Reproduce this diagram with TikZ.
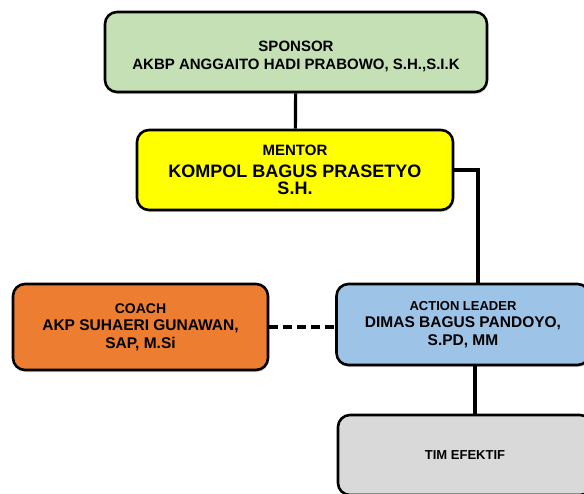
\documentclass[tikz,border=0pt]{standalone}
\usepackage{fontspec}
\setmainfont{Liberation Sans}
\usetikzlibrary{shadows}
\definecolor{sponsorgreen}{HTML}{C5E0B4}
\definecolor{mentoryellow}{HTML}{FFFF00}
\definecolor{coachorange}{HTML}{ED7D31}
\definecolor{leaderblue}{HTML}{9DC3E6}
\definecolor{teamgray}{HTML}{D9D9D9}
\newcommand{\fsz}[1]{\fontsize{#1}{1.2\dimexpr#1pt\relax}\selectfont}

\begin{document}
\begin{tikzpicture}[x=1pt,y=-1pt,
  box/.style={rectangle,draw,rounded corners=12pt,line width=2.6pt,align=center,
    font=\bfseries\fontsize{14}{17.5}\selectfont,
    drop shadow={opacity=0.3,shadow xshift=1pt,shadow yshift=-2pt}},
  link/.style={line width=3.2pt}]
  \useasboundingbox (0,0) rectangle (584,493);

  \node[box,fill=sponsorgreen,minimum width=382pt,minimum height=80pt] (sponsor) at (296,52)
    {\fsz{15}\rule{0pt}{19pt}SPONSOR\\\fsz{15}AKBP ANGGAITO HADI PRABOWO, S.H.,S.I.K};
  \node[box,fill=mentoryellow,minimum width=316pt,minimum height=80pt] (mentor) at (295,170)
    {\fsz{15}MENTOR\\[4pt]\fsz{18}KOMPOL BAGUS PRASETYO\\\fsz{18}S.H.};
  \node[box,fill=coachorange,minimum width=255pt,minimum height=86pt] (coach) at (140.5,327)
    {\fsz{14}COACH\\\fsz{15.5}AKP SUHAERI GUNAWAN,\\\fsz{15.5}SAP, M.Si};
  \node[box,fill=leaderblue,minimum width=253pt,minimum height=81pt] (leader) at (463,324.5)
    {\fsz{13}ACTION LEADER\\\fsz{15.5}DIMAS BAGUS PANDOYO,\\\fsz{15.5}S.PD, MM};
  \node[box,fill=teamgray,minimum width=254pt,minimum height=80pt] (team) at (465,455)
    {\fsz{13}TIM EFEKTIF};

  \draw[link] (sponsor) -- (mentor);
  \draw[link] (mentor.east) -| ([xshift=15pt]leader.north);
  \draw[link] ([xshift=12pt]leader.south) -- ([xshift=12pt]leader.south |- team.north);
  \draw[link,dash pattern=on 9pt off 5pt] (coach.east) -- (coach.east -| leader.west);
\end{tikzpicture}
\end{document}
